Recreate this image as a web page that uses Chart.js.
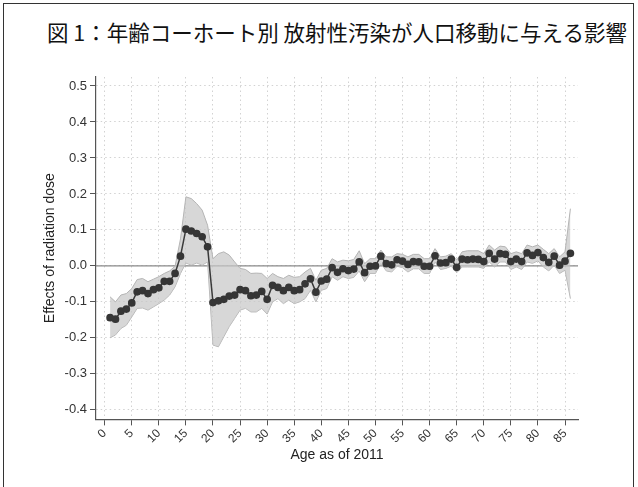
<!DOCTYPE html>
<html>
<head>
<meta charset="utf-8">
<script src="https://cdn.jsdelivr.net/npm/chart.js@4.4.1/dist/chart.umd.min.js"></script>
<style>
    html, body { margin: 0; padding: 0; background: #fff; }
    #wrap { position: relative; width: 638px; height: 487px; overflow: hidden; }
    #frame {
        position: absolute; left: 3px; top: 3px; width: 629px; height: 500px;
        border: 1.5px solid #333; border-bottom: none;
    }
    #title {
        position: absolute; left: 47px; top: 16px; white-space: nowrap;
        font-family: "Noto Sans CJK JP", sans-serif; font-size: 21.5px; color: #111;
    }
    #chart { position: absolute; left: 0; top: 0; }
</style>
</head>
<body>
<div id="wrap">
    <div id="frame"></div>
    <div id="title">図 1：年齢コーホート別 放射性汚染が人口移動に与える影響</div>
    <canvas id="chart" width="638" height="487"></canvas>
</div>
<script>
// Age cohorts (age as of 2011)
const ages = [
    1, 2, 3, 4, 5, 6, 7, 8, 9, 10, 11, 12, 13, 14, 15, 16, 17, 18, 19, 20,
    21, 22, 23, 24, 25, 26, 27, 28, 29, 30, 31, 32, 33, 34, 35, 36, 37, 38, 39, 40,
    41, 42, 43, 44, 45, 46, 47, 48, 49, 50, 51, 52, 53, 54, 55, 56, 57, 58, 59, 60,
    61, 62, 63, 64, 65, 66, 67, 68, 69, 70, 71, 72, 73, 74, 75, 76, 77, 78, 79, 80,
    81, 82, 83, 84, 85, 86
];

// Point estimates
const effects = [
    -0.144, -0.148, -0.126, -0.120, -0.103, -0.072, -0.069, -0.077, -0.066, -0.061,
    -0.043, -0.043, -0.021, 0.027, 0.102, 0.097, 0.090, 0.081, 0.053, -0.102,
    -0.097, -0.093, -0.084, -0.081, -0.066, -0.069, -0.083, -0.081, -0.071, -0.093,
    -0.054, -0.060, -0.069, -0.060, -0.069, -0.066, -0.050, -0.036, -0.073, -0.042,
    -0.037, -0.005, -0.018, -0.008, -0.013, -0.009, 0.011, -0.019, -0.001, 0.000,
    0.027, 0.006, 0.003, 0.017, 0.013, 0.004, 0.012, 0.011, -0.001, -0.001,
    0.028, 0.008, 0.009, 0.019, -0.004, 0.019, 0.017, 0.019, 0.018, 0.012,
    0.035, 0.019, 0.034, 0.032, 0.012, 0.019, 0.012, 0.036, 0.029, 0.037,
    0.023, 0.010, 0.027, 0.002, 0.013, 0.035
];

// Confidence interval, upper bound
const ciUpper = [
    -0.086, -0.100, -0.081, -0.077, -0.063, -0.038, -0.035, -0.044, -0.037, -0.030,
    -0.021, -0.014, -0.001, 0.075, 0.192, 0.187, 0.173, 0.155, 0.113, 0.020,
    0.034, 0.039, 0.030, 0.011, -0.007, -0.010, -0.021, -0.020, -0.021, -0.035,
    -0.021, -0.030, -0.035, -0.026, -0.032, -0.030, -0.017, -0.007, -0.040, -0.012,
    -0.007, 0.020, 0.011, 0.016, 0.014, 0.018, 0.042, 0.006, 0.020, 0.020,
    0.044, 0.025, 0.025, 0.034, 0.032, 0.025, 0.032, 0.032, 0.020, 0.020,
    0.048, 0.025, 0.027, 0.034, 0.016, 0.039, 0.042, 0.042, 0.042, 0.034,
    0.058, 0.044, 0.055, 0.053, 0.034, 0.039, 0.034, 0.058, 0.053, 0.058,
    0.046, 0.034, 0.048, 0.025, 0.039, 0.159
];

// Confidence interval, lower bound
const ciLower = [
    -0.200, -0.192, -0.174, -0.165, -0.142, -0.118, -0.117, -0.123, -0.114, -0.105,
    -0.095, -0.081, -0.058, -0.021, 0.008, 0.002, 0.008, 0.002, 0.011, -0.220,
    -0.225, -0.197, -0.169, -0.146, -0.123, -0.118, -0.128, -0.128, -0.118, -0.134,
    -0.100, -0.091, -0.105, -0.095, -0.105, -0.100, -0.091, -0.068, -0.100, -0.068,
    -0.063, -0.030, -0.040, -0.030, -0.035, -0.032, -0.014, -0.044, -0.021, -0.021,
    0.007, -0.014, -0.017, -0.001, -0.005, -0.017, -0.008, -0.008, -0.021, -0.021,
    0.011, -0.010, -0.007, -0.001, -0.019, -0.003, -0.003, -0.003, -0.003, -0.007,
    0.011, -0.003, 0.011, 0.011, -0.010, -0.003, -0.010, 0.011, 0.007, 0.014,
    -0.003, -0.014, 0.002, -0.021, -0.012, -0.091
];

// Tick labels
const xTicks = [0, 5, 10, 15, 20, 25, 30, 35, 40, 45, 50, 55, 60, 65, 70, 75, 80, 85];
const yTicks = [-0.4, -0.3, -0.2, -0.1, 0.0, 0.1, 0.2, 0.3, 0.4, 0.5];

const toPoints = vals => ages.map((a, i) => ({ x: a, y: vals[i] }));

// Solid reference line at y = 0
const zeroLine = {
    id: 'zeroLine',
    beforeDatasetsDraw(chart) {
        const { ctx, chartArea, scales } = chart;
        const y = scales.y.getPixelForValue(0);
        ctx.save();
        ctx.strokeStyle = '#8a8a8a';
        ctx.lineWidth = 1.3;
        ctx.beginPath();
        ctx.moveTo(chartArea.left, y);
        ctx.lineTo(chartArea.right, y);
        ctx.stroke();
        ctx.restore();
    }
};

Chart.defaults.font.family = '"Liberation Sans", Arial, sans-serif';

new Chart(document.getElementById('chart'), {
    type: 'line',
    data: {
        datasets: [
            {
                label: 'effect',
                order: 0,
                data: toPoints(effects),
                borderColor: '#3a3a3a',
                borderWidth: 1.5,
                backgroundColor: '#363636',
                pointBackgroundColor: '#363636',
                pointBorderColor: '#363636',
                pointRadius: 3.1,
                fill: false,
                tension: 0
            },
            {
                label: 'upper',
                order: 1,
                data: toPoints(ciUpper),
                borderColor: '#b4b4b4',
                borderWidth: 1,
                backgroundColor: 'rgba(200, 200, 200, 0.72)',
                pointRadius: 0,
                fill: '+1',
                tension: 0
            },
            {
                label: 'lower',
                order: 1,
                data: toPoints(ciLower),
                borderColor: '#b4b4b4',
                borderWidth: 1,
                pointRadius: 0,
                fill: false,
                tension: 0
            }
        ]
    },
    options: {
        responsive: false,
        animation: false,
        layout: { padding: { left: 42, top: 77, right: 60, bottom: 23.6 } },
        plugins: {
            legend: { display: false },
            tooltip: { enabled: false }
        },
        scales: {
            x: {
                type: 'linear',
                min: -1.6,
                max: 87.4,
                afterBuildTicks: s => { s.ticks = xTicks.map(v => ({ value: v })); },
                afterFit: s => { s.height = 44; },
                grid: { color: '#d2d2d2', lineWidth: 1, tickColor: '#555', tickLength: 6, tickBorderDash: [] },
                border: { color: '#555', width: 1.2, dash: [1.5, 3] },
                ticks: { autoSkip: false, minRotation: 45, maxRotation: 45, color: '#333', font: { size: 12 }, padding: 1 },
                title: { display: true, text: 'Age as of 2011', color: '#222', font: { size: 14 }, padding: 0 }
            },
            y: {
                min: -0.4267,
                max: 0.525,
                afterBuildTicks: s => { s.ticks = yTicks.map(v => ({ value: v })); },
                afterFit: s => { s.width = 54; },
                grid: { color: '#d2d2d2', lineWidth: 1, tickColor: '#555', tickLength: 6, tickBorderDash: [] },
                border: { color: '#555', width: 1.2, dash: [1.5, 3] },
                ticks: { color: '#333', font: { size: 13 }, padding: 3, callback: v => v.toFixed(1) },
                title: { display: true, text: 'Effects of radiation dose', color: '#222', font: { size: 14 }, padding: 0 }
            }
        }
    },
    plugins: [zeroLine]
});
</script>
</body>
</html>
